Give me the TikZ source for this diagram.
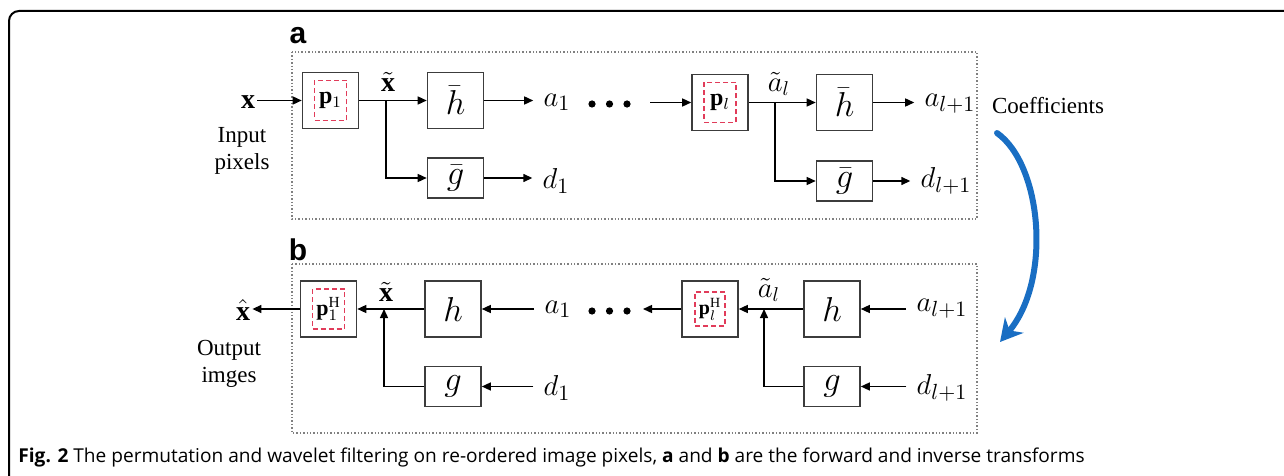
\documentclass[tikz,border=0pt]{standalone}
\usepackage{fontspec}
\setmainfont{Liberation Serif}
\newfontfamily\labfont{Liberation Sans}
\newfontfamily\capfont{Open Sans}
\usetikzlibrary{calc,arrows.meta,positioning}
\definecolor{pred}{RGB}{225,60,90}
\definecolor{cblue}{RGB}{25,110,195}
\definecolor{boxgray}{RGB}{60,60,60}

\tikzset{
  blk/.style={draw=boxgray, line width=0.8pt, minimum width=28pt, minimum height=28pt,
    inner sep=0pt, font=\fontsize{16}{18}\selectfont},
  blks/.style={blk, minimum height=20pt},
  pmark/.style={draw=pred, dash pattern=on 2.5pt off 1.5pt, line width=0.6pt,
    minimum width=16pt, minimum height=20pt, inner sep=0pt, font=\fontsize{12}{14}\selectfont},
  stage/.style={draw=gray, densely dotted, line width=0.7pt},
  lbl/.style={inner sep=1pt, font=\fontsize{11.5}{13.5}\selectfont},
  var/.style={inner sep=1pt, font=\fontsize{14}{16}\selectfont},
  sig/.style={inner sep=5pt, font=\fontsize{15}{17}\selectfont},
  tag/.style={inner sep=0pt, font=\labfont\bfseries\fontsize{15}{15}\selectfont},
  wire/.style={line width=0.7pt},
  flow/.style={wire, -{Triangle[length=4.5pt,width=4pt]}},
}

\begin{document}
\begin{tikzpicture}[x=0.5pt,y=-0.5pt]
\useasboundingbox (0,0) rectangle (1284,476);
% frame
\draw[line width=1pt, rounded corners=5pt] (9,476) -- (9,11) -- (1284,11);

% a: forward transform
\draw[stage] (292,52) rectangle (977,219);
\node[tag] (la) at (298,36) {a};

\node[var] (x) at (248,102) {$\mathbf{x}$};
\node[lbl, align=center] (inp) at (242,151) {Input\\pixels};
\node[blk] (p1) at (330.5,100.5) {};
\node[pmark] (p1m) at (p1) {$\mathbf{p}_1$};
\coordinate (j1) at (386,100.5);
\node[var] (xt) at (388,82) {$\tilde{\mathbf{x}}$};
\node[blk] (hb1) at (455.5,100.5) {$\bar{h}$};
\node[blks] (gb1) at (455.5,178) {$\bar{g}$};
\node[sig] (a1) at (557,102) {$a_1$};
\node[sig] (d1) at (556,181) {$d_1$};
\foreach \i in {0,1,2}
  \fill (592+17.5*\i,104) circle (1.8pt);
\coordinate (c1) at (650,102.5);
\node[blk] (pl) at (720,102.5) {};
\node[pmark] (plm) at (pl) {$\mathbf{p}_l$};
\coordinate (j2) at (775,102.5);
\node[var] (at) at (779,84) {$\tilde{a}_l$};
\node[blk] (hb2) at (844.5,102.5) {$\bar{h}$};
\node[blks] (gb2) at (844.5,181) {$\bar{g}$};
\node[sig] (al1) at (950,104) {$a_{l+1}$};
\node[sig] (dl1) at (946,181) {$d_{l+1}$};

\draw[flow] (p1.west -| x.east) -- (p1.west);
\draw[wire] (p1.east) -- (j1);
\draw[flow] (j1) -- (hb1.west);
\draw[flow] (j1) |- (gb1.west);
\draw[flow] (hb1.east) -- (hb1.east -| a1.west);
\draw[flow] (gb1.east) -- (gb1.east -| d1.west);
\draw[flow] (c1) -- (pl.west);
\draw[wire] (pl.east) -- (j2);
\draw[flow] (j2) -- (hb2.west);
\draw[flow] (j2) |- (gb2.west);
\draw[flow] (hb2.east) -- (hb2.east -| al1.west);
\draw[flow] (gb2.east) -- (gb2.east -| dl1.west);

% b: inverse transform
\draw[stage] (292,264) rectangle (977,433);
\node[tag] (lb) at (298,250) {b};

\node[var] (xh) at (243,310) {$\hat{\mathbf{x}}$};
\node[lbl, align=center] (outp) at (229,364) {Output\\imges};
\node[blk] (q1) at (328.5,309) {};
\node[pmark, font=\fontsize{11}{13}\selectfont] (q1m) at (q1) {$\mathbf{p}_1^{\mathrm{H}}$};
\coordinate (k1) at (384,309);
\node[var] (xt2) at (386,292) {$\tilde{\mathbf{x}}$};
\node[blk] (h1) at (453,309) {$h$};
\node[blks] (g1) at (453,386.5) {$g$};
\node[sig] (b1) at (558,309) {$a_1$};
\node[sig] (e1) at (557,388) {$d_1$};
\foreach \i in {0,1,2}
  \fill (592+17.5*\i,311) circle (1.8pt);
\coordinate (c2) at (643,309);
\node[blk] (ql) at (710,309) {};
\node[pmark, minimum width=15pt, minimum height=17pt, font=\fontsize{10}{12}\selectfont] (qlm) at (ql) {$\mathbf{p}_l^{\mathrm{H}}$};
\coordinate (k2) at (764,309);
\node[var] (at2) at (769,290) {$\tilde{a}_l$};
\node[blk] (h2) at (832,309) {$h$};
\node[blks] (g2) at (832,386.5) {$g$};
\node[sig] (bl1) at (942,309) {$a_{l+1}$};
\node[sig] (el1) at (942,388) {$d_{l+1}$};

\draw[flow] (q1.west) -- (q1.west -| xh.east);
\draw[flow] (h1.west) -- (q1.east);
\draw[flow] (g1.west) -| (k1);
\draw[flow] (h1.east -| b1.west) -- (h1.east);
\draw[flow] (g1.east -| e1.west) -- (g1.east);
\draw[flow] (ql.west) -- (c2);
\draw[flow] (h2.west) -- (ql.east);
\draw[flow] (g2.west) -| (k2);
\draw[flow] (h2.east -| bl1.west) -- (h2.east);
\draw[flow] (g2.east -| el1.west) -- (g2.east);

% coefficients passed from a to b
\node[lbl] (coef) at (1048,106) {Coefficients};
\coordinate (cs) at (997,133);
\coordinate (ce) at (1000,342);
\draw[cblue, line width=3pt, line cap=round, -{Stealth[length=11pt,width=12pt,inset=3.5pt]}]
  (cs) .. controls (1042,165) and (1052,280) .. (ce);

% caption
\node[anchor=base west, inner sep=0pt, font=\capfont\fontsize{9.55}{11}\selectfont] (cap) at (18,462)
  {\textbf{Fig. 2} The permutation and wavelet filtering on re-ordered image pixels, \textbf{a} and \textbf{b} are the forward and inverse transforms};
\end{tikzpicture}
\end{document}
